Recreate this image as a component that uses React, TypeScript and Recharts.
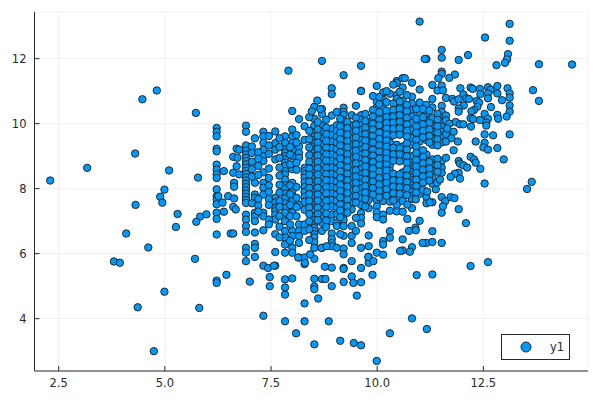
import React from 'react';
import { ScatterChart, Scatter, XAxis, YAxis, CartesianGrid, Legend } from 'recharts';

const xTicks = [2.5, 5, 7.5, 10, 12.5];
const yTicks = [4, 6, 8, 10, 12];
const seriesName = 'y1';

// x values repeat a lot, so the main cloud is kept column by column
const columnXs = [6.22, 6.91, 7.12, 7.32, 7.6, 7.83, 8.0, 8.16, 8.29, 8.52, 8.7, 8.93, 9.05, 9.21, 9.4, 9.62, 9.8, 9.99, 10.14, 10.3, 10.46, 10.6, 10.82, 11.0, 11.16, 11.3, 11.52];
const columnYs = [
  [9.87, 9.75, 9.61, 9.23, 9.15, 8.74, 8.59, 8.44, 8.33, 7.98, 7.77, 7.67, 7.52, 7.26, 7.07, 6.59, 5.17, 5.1],
  [9.94, 9.75, 9.33, 9.17, 9.05, 8.95, 8.85, 8.75, 8.65, 8.55, 8.45, 8.35, 8.25, 8.15, 8.05, 7.95, 7.85, 7.75, 7.65, 7.56, 7.2, 7.05, 6.85, 6.67, 6.18, 6.03, 5.77],
  [9.55, 8.18, 7.82, 7.72, 7.26, 7.15, 7.0, 6.65, 6.3, 6.18, 5.9],
  [9.75, 9.61, 9.41, 9.2, 9.0, 8.85, 8.5, 8.18, 8.03, 7.82, 7.26, 7.15, 6.72, 5.63],
  [9.76, 9.4, 9.2, 8.9, 7.72, 7.58, 7.41, 7.31, 7.2, 7.05, 6.6, 6.05, 5.63],
  [9.61, 9.41, 9.2, 9.1, 9.0, 8.9, 8.8, 8.7, 8.54, 8.44, 8.28, 8.1, 8.0, 7.85, 7.7, 7.55, 7.41, 7.26, 7.0, 6.7, 6.5, 6.28, 6.03, 5.21, 4.96, 4.74, 3.92],
  [10.39, 9.82, 9.61, 9.41, 9.2, 9.0, 8.6, 8.18, 7.92, 7.77, 7.62, 7.41, 7.26, 6.7, 6.54, 6.18, 6.03, 5.24],
  [10.14, 9.3, 9.1, 8.95, 7.5, 6.9, 6.7, 6.54, 6.33, 5.88],
  [9.92, 9.5, 8.64, 8.54, 8.44, 8.34, 8.2, 8.05, 7.9, 7.75, 7.6, 7.35, 6.9, 6.7, 5.88, 5.68, 4.47, 3.92],
  [10.52, 10.15, 9.93, 9.72, 9.6, 9.5, 9.4, 9.3, 9.2, 9.1, 9.0, 8.9, 8.8, 8.7, 8.6, 8.5, 8.4, 8.3, 8.2, 8.1, 8.0, 7.9, 7.8, 7.7, 7.6, 7.5, 7.4, 7.3, 7.15, 7.03, 6.9, 6.8, 6.7, 6.6, 6.5, 6.35, 6.18, 5.84, 5.23, 4.99, 4.91, 3.21],
  [10.45, 10.29, 9.95, 9.75, 9.55, 9.35, 9.15, 8.95, 8.75, 8.55, 8.35, 8.15, 7.95, 7.75, 7.55, 7.35, 7.15, 6.95, 6.7, 6.18, 5.22],
  [11.09, 10.91, 10.25, 9.85, 9.65, 9.45, 9.25, 9.05, 8.85, 8.65, 8.45, 8.25, 8.05, 7.85, 7.65, 7.45, 7.2, 7.0, 6.62, 6.45, 6.33, 6.23, 5.57, 5.0],
  [10.36, 9.95, 9.78, 9.6, 9.42, 9.22, 9.02, 8.82, 8.62, 8.42, 8.22, 8.02, 7.82, 7.62, 7.42, 7.22, 6.95, 6.85, 6.18],
  [11.49, 10.49, 10.36, 10.27, 10.1, 10.0, 9.9, 9.8, 9.7, 9.6, 9.5, 9.4, 9.3, 9.2, 9.1, 9.0, 8.9, 8.8, 8.7, 8.6, 8.5, 8.4, 8.3, 8.2, 8.1, 8.0, 7.9, 7.8, 7.7, 7.6, 7.5, 7.4, 7.28, 7.16, 7.03, 6.85, 6.55, 6.16, 5.98, 5.56, 5.53, 5.13],
  [10.26, 9.95, 9.75, 9.55, 9.35, 9.15, 8.95, 8.75, 8.55, 8.35, 8.15, 7.95, 7.75, 7.55, 7.36, 6.85, 6.55, 6.33, 5.77, 5.3],
  [11.78, 11.01, 11.0, 10.26, 10.12, 9.95, 9.8, 9.65, 9.5, 9.35, 9.2, 9.05, 8.9, 8.75, 8.6, 8.45, 8.3, 8.15, 8.0, 7.85, 7.7, 7.5, 7.25, 7.1, 6.93, 6.18, 5.56, 5.12, 3.18],
  [10.05, 9.85, 9.65, 9.45, 9.25, 9.05, 8.85, 8.65, 8.45, 8.25, 8.05, 7.85, 7.65, 7.4, 6.56, 6.23, 5.9, 5.72],
  [11.16, 10.68, 10.5, 10.2, 10.05, 9.9, 9.75, 9.6, 9.45, 9.3, 9.15, 9.0, 8.85, 8.7, 8.55, 8.4, 8.25, 8.1, 7.95, 7.8, 7.65, 7.45, 7.27, 7.12, 6.03],
  [10.96, 10.74, 10.45, 10.25, 10.05, 9.85, 9.65, 9.45, 9.25, 9.05, 8.85, 8.65, 8.45, 8.25, 8.05, 7.85, 7.62, 7.2, 7.05, 6.39, 6.28, 5.97],
  [10.92, 10.3, 10.12, 9.95, 9.78, 9.6, 9.42, 9.25, 9.08, 8.9, 8.72, 8.55, 8.38, 8.2, 8.02, 7.85, 7.6, 7.32, 6.69, 6.49, 3.55],
  [11.31, 11.25, 10.88, 10.76, 10.55, 10.35, 10.15, 9.95, 9.75, 9.35, 9.15, 8.95, 8.35, 8.15, 7.95, 7.75, 7.5, 7.3],
  [11.11, 11.4, 10.71, 10.5, 10.3, 10.1, 9.9, 9.7, 9.3, 9.1, 8.9, 8.5, 8.3, 8.1, 7.9, 7.62, 7.29, 6.44, 6.1],
  [11.26, 10.83, 10.62, 10.42, 10.22, 10.02, 9.8, 9.55, 9.35, 9.0, 8.8, 8.72, 8.65, 8.58, 8.5, 8.42, 8.34, 8.26, 8.18, 8.1, 8.0, 7.9, 7.78, 7.68, 7.4, 6.2, 4.01],
  [13.14, 11.05, 10.65, 10.3, 10.05, 9.85, 9.65, 9.45, 9.0, 8.7, 8.5, 8.3, 8.1, 7.84, 7.01],
  [11.99, 10.58, 10.3, 10.1, 9.9, 9.7, 9.5, 9.05, 8.85, 8.65, 8.45, 8.25, 7.74, 7.55, 6.33],
  [11.19, 10.76, 10.5, 10.17, 9.95, 9.75, 9.55, 9.35, 8.9, 8.72, 8.55, 8.35, 8.15, 7.58, 6.69, 6.36, 5.36],
  [12.27, 12.03, 11.6, 11.53, 11.17, 10.55, 10.36, 10.2, 10.05, 9.9, 9.75, 9.6, 9.42, 8.85, 8.65, 8.49, 7.74, 7.26, 6.33],
];

// the crowded middle, between the clear columns
const fillXs = [7.05, 7.2, 7.45, 7.7, 7.95, 8.1, 8.4, 8.6, 8.8, 9.13, 9.3, 9.5, 9.72, 9.9, 10.05, 10.22, 10.38, 10.53, 10.7, 10.92, 11.08, 11.23, 11.42, 11.62];
const fillYs = [
  [9.3, 9.1, 8.83, 8.6, 8.37, 7.55],
  [9.12, 8.92, 8.7, 8.42, 7.68, 7.48, 7.3],
  [9.62, 9.33, 9.07, 8.62, 8.33, 8.1, 7.9, 7.68, 7.5, 7.05, 6.9],
  [9.55, 9.28, 8.95, 8.65, 8.4, 8.12, 7.88, 7.62, 7.44, 7.16, 6.83, 6.5],
  [9.28, 9.05, 8.75, 8.1, 7.83, 7.5, 7.15, 6.9, 6.4],
  [9.65, 9.42, 8.8, 8.58, 8.05, 7.72, 7.43, 7.15],
  [10.2, 9.78, 9.52, 9.27, 9.03, 8.83, 8.62, 8.43, 8.22, 8.02, 7.83, 7.62, 7.42, 7.22, 7.0, 6.75, 6.42],
  [10.05, 9.82, 9.62, 9.42, 9.23, 9.02, 8.83, 8.63, 8.44, 8.23, 8.03, 7.82, 7.63, 7.42, 7.22, 7.03],
  [10.12, 9.88, 9.68, 9.47, 9.26, 9.06, 8.86, 8.64, 8.45, 8.26, 8.05, 7.86, 7.63, 7.43, 7.24, 7.02, 6.82],
  [10.15, 9.92, 9.72, 9.52, 9.33, 9.12, 8.93, 8.72, 8.53, 8.33, 8.12, 7.93, 7.73, 7.52, 7.33, 7.12, 6.6],
  [10.05, 9.86, 9.66, 9.46, 9.27, 9.06, 8.87, 8.66, 8.46, 8.26, 8.07, 7.86, 7.66, 7.46, 7.26],
  [10.55, 10.18, 9.97, 9.78, 9.58, 9.37, 9.17, 8.98, 8.78, 8.57, 8.37, 8.18, 7.98, 7.78, 7.57, 7.1, 6.7],
  [10.3, 10.08, 9.88, 9.68, 9.48, 9.28, 9.08, 8.88, 8.68, 8.48, 8.28, 8.08, 7.88, 7.68, 7.45],
  [10.85, 10.42, 10.22, 10.0, 9.82, 9.62, 9.42, 9.2, 9.02, 8.82, 8.62, 8.42, 8.22, 8.02, 7.82],
  [10.82, 10.6, 10.35, 10.13, 9.95, 9.73, 9.53, 9.33, 9.14, 8.93, 8.73, 8.53, 8.33, 8.13, 7.93, 7.73],
  [11.0, 10.66, 10.4, 10.2, 10.02, 9.85, 9.67, 9.48, 9.3, 9.1, 8.92, 8.74, 8.56, 8.36, 8.18, 7.98, 7.78],
  [11.2, 10.62, 10.42, 10.22, 10.03, 9.84, 9.64, 9.26, 9.06, 8.86, 8.46, 8.26, 8.06, 7.86, 7.64],
  [10.98, 10.68, 10.45, 10.26, 10.06, 9.86, 9.66, 9.24, 9.06, 8.84, 8.44, 8.24, 8.04, 7.84],
  [10.88, 10.58, 10.38, 10.18, 9.98, 9.78, 9.6, 9.4, 9.2, 9.0, 8.8, 8.6, 8.4, 8.2, 8.02, 7.8],
  [10.45, 10.15, 9.92, 9.72, 9.5, 9.3, 9.1, 8.88, 8.68, 8.48, 8.28, 8.08, 7.88],
  [10.45, 10.2, 9.98, 9.78, 9.58, 9.18, 8.98, 8.78, 8.58, 8.38, 8.18, 7.96],
  [10.4, 10.02, 9.82, 9.62, 9.42, 8.82, 8.62, 8.42, 8.25],
  [10.3, 10.12, 9.92, 9.72, 9.52, 9.33, 8.92, 8.72, 8.52],
  [10.25, 10.1, 9.68, 9.45, 8.95],
];

// points that sit off the columns
const loosePoints: [number, number][] = [
  [4.47, 10.75], [4.81, 11.02], [5.73, 10.33], [2.3, 8.25], [3.17, 8.64], [4.3, 9.08], [5.1, 8.56], [5.78, 8.34],
  [4.99, 7.97], [4.89, 7.75], [4.94, 7.57], [4.31, 7.5], [5.3, 7.22], [5.83, 7.14], [5.74, 6.98], [5.26, 6.82],
  [4.09, 6.62], [4.61, 6.19], [5.71, 5.84], [3.8, 5.76], [3.94, 5.72], [4.99, 4.83], [4.36, 4.35], [5.81, 4.33],
  [4.74, 3.0], [8.7, 11.93], [7.91, 11.63], [8.59, 10.71], [8.46, 10.38], [8.66, 10.45],
  [6.39, 8.54], [6.39, 7.29], [6.36, 7.57], [6.26, 7.77], [5.98, 7.21], [6.49, 7.77], [6.63, 7.7], [6.61, 7.44],
  [6.67, 7.36], [6.55, 6.62], [6.61, 6.62], [6.61, 8.98], [6.69, 9.23], [6.75, 9.2], [6.69, 8.69], [6.61, 8.49],
  [6.75, 8.44], [6.63, 8.18], [6.63, 8.06], [6.71, 8.95], [6.45, 5.35], [7.0, 5.14], [7.47, 5.28], [7.47, 5.0],
  [8.78, 5.22], [9.44, 5.1], [9.52, 4.71], [8.61, 4.62], [7.32, 4.09], [8.86, 3.92], [8.09, 3.55], [9.13, 3.32],
  [9.45, 3.25], [9.99, 2.7], [7.43, 5.56], [7.57, 5.63], [8.77, 5.6], [9.89, 5.35], [9.79, 5.9], [9.91, 5.77],
  [8.42, 5.98], [8.14, 5.88], [8.3, 5.72], [8.69, 6.18], [8.81, 6.23], [10.54, 6.08],
  [12.32, 9.45], [12.53, 9.67], [12.73, 9.64], [13.12, 9.67], [12.53, 9.41], [12.5, 9.27], [12.61, 9.2], [12.83, 9.25],
  [12.98, 8.9], [12.2, 8.98], [12.28, 8.9], [12.32, 8.8], [11.92, 8.85], [11.95, 8.77], [12.03, 8.72], [12.12, 8.65],
  [12.43, 8.61], [11.92, 8.49], [11.83, 8.46], [11.73, 8.36], [11.95, 8.31], [12.53, 8.16], [13.64, 8.21], [13.53, 7.99],
  [11.73, 7.74], [11.82, 7.71], [11.6, 7.61], [11.55, 7.46], [11.92, 7.37], [12.09, 6.94], [10.9, 6.8], [10.91, 6.72],
  [10.75, 6.7], [10.71, 7.07], [10.71, 7.51], [11.24, 7.58], [10.91, 7.67], [11.18, 7.91], [11.38, 7.98], [11.41, 8.18],
  [11.48, 8.28], [11.07, 6.33], [10.77, 6.06], [12.2, 5.62], [12.61, 5.74], [10.93, 5.34], [11.17, 3.68],
  [13.12, 13.07], [12.54, 12.65], [13.12, 12.55], [13.08, 12.14], [12.14, 12.11], [13.06, 11.98], [11.12, 11.99], [11.92, 11.96],
  [13.01, 11.87], [12.81, 11.8], [13.81, 11.83], [14.59, 11.82], [11.83, 11.51], [11.7, 11.41], [11.44, 11.4], [10.65, 11.4],
  [11.42, 11.02], [11.55, 11.02], [11.96, 11.09], [12.2, 11.11], [12.25, 11.07], [12.42, 11.07], [12.61, 11.12], [12.67, 11.04],
  [12.83, 11.16], [13.07, 11.09], [13.12, 10.93], [13.12, 10.8], [13.67, 11.03], [13.81, 10.7], [12.43, 10.91], [12.61, 10.93],
  [12.61, 10.78], [12.83, 10.93], [12.94, 10.72], [12.03, 10.9], [12.1, 10.78], [12.16, 10.76], [12.34, 10.7], [12.4, 10.65],
  [12.36, 10.52], [12.28, 10.42], [12.22, 10.38], [12.68, 10.51], [13.12, 10.56], [13.12, 10.37], [13.05, 10.22], [12.83, 10.27],
  [12.85, 10.15], [12.53, 10.3], [12.61, 10.15], [12.57, 10.03], [12.57, 9.94], [12.42, 10.11], [12.21, 9.91], [12.2, 10.17],
  [12.26, 10.14], [11.62, 10.79], [11.77, 10.76], [11.81, 10.68], [11.92, 10.75], [12.04, 10.56], [11.92, 10.47], [11.92, 10.37],
  [11.7, 10.0], [11.85, 10.05], [11.95, 9.98], [12.03, 9.98], [11.65, 9.85], [11.8, 9.75], [11.75, 9.55], [11.9, 9.45],
  [11.8, 9.18],
];

const tableData = [
  ...columnXs.flatMap((x, i) => columnYs[i].map((y) => ({ x, y }))),
  ...fillXs.flatMap((x, i) => fillYs[i].map((y) => ({ x, y }))),
  ...loosePoints.map(([x, y]) => ({ x, y })),
];

const fontFamily = '"DejaVu Sans", sans-serif';
const inkColor = '#2a2a2a';
const markerFill = '#009AFA';

const XTick = ({ x, y, payload }: any) => (
  <g>
    <line x1={x} x2={x} y1={y} y2={y - 5} stroke={inkColor} />
    <text x={x} y={y + 16} textAnchor="middle" fontSize={11.5} fontFamily={fontFamily} fill={inkColor}>
      {payload.value.toFixed(1)}
    </text>
  </g>
);

const YTick = ({ x, y, payload }: any) => (
  <g>
    <line x1={x} x2={x + 5} y1={y} y2={y} stroke={inkColor} />
    <text x={x - 8} y={y + 4} textAnchor="end" fontSize={11.5} fontFamily={fontFamily} fill={inkColor}>
      {payload.value}
    </text>
  </g>
);

const Dot = ({ cx, cy }: any) => (
  <circle cx={cx} cy={cy} r={3.7} fill={markerFill} stroke="#1c2a33" strokeWidth={1} />
);

const LegendBox = () => (
  <svg width={69} height={26} style={{ display: 'block' }}>
    <rect x={0.5} y={0.5} width={68} height={25} fill="#fff" stroke={inkColor} />
    <circle cx={25} cy={13} r={5} fill={markerFill} stroke="#1c2a33" />
    <text x={49} y={17} fontSize={11.5} fontFamily={fontFamily} fill={inkColor}>
      {seriesName}
    </text>
  </svg>
);

export default function App() {
  return (
    <div style={{ position: 'absolute', left: 0, top: 0, width: 600, height: 400, background: '#fff' }}>
      <ScatterChart width={600} height={400} margin={{ top: 12, right: 12, bottom: 0, left: 0 }}>
        <CartesianGrid stroke="#efefef" />
        <XAxis
          type="number"
          dataKey="x"
          domain={[1.93, 14.965]}
          ticks={xTicks}
          height={29}
          stroke={inkColor}
          tickLine={false}
          tickSize={0}
          tickMargin={0}
          tick={<XTick />}
          interval={0}
        />
        <YAxis
          type="number"
          dataKey="y"
          domain={[2.39, 13.435]}
          ticks={yTicks}
          width={34.5}
          stroke={inkColor}
          tickLine={false}
          tickSize={0}
          tickMargin={0}
          tick={<YTick />}
          interval={0}
        />
        <Legend
          layout="horizontal"
          align="center"
          verticalAlign="middle"
          content={<LegendBox />}
          wrapperStyle={{ left: 501, top: 334, width: 69, height: 26, bottom: 'auto', right: 'auto' }}
        />
        <Scatter name={seriesName} data={tableData} shape={<Dot />} isAnimationActive={false} />
      </ScatterChart>
    </div>
  );
}
